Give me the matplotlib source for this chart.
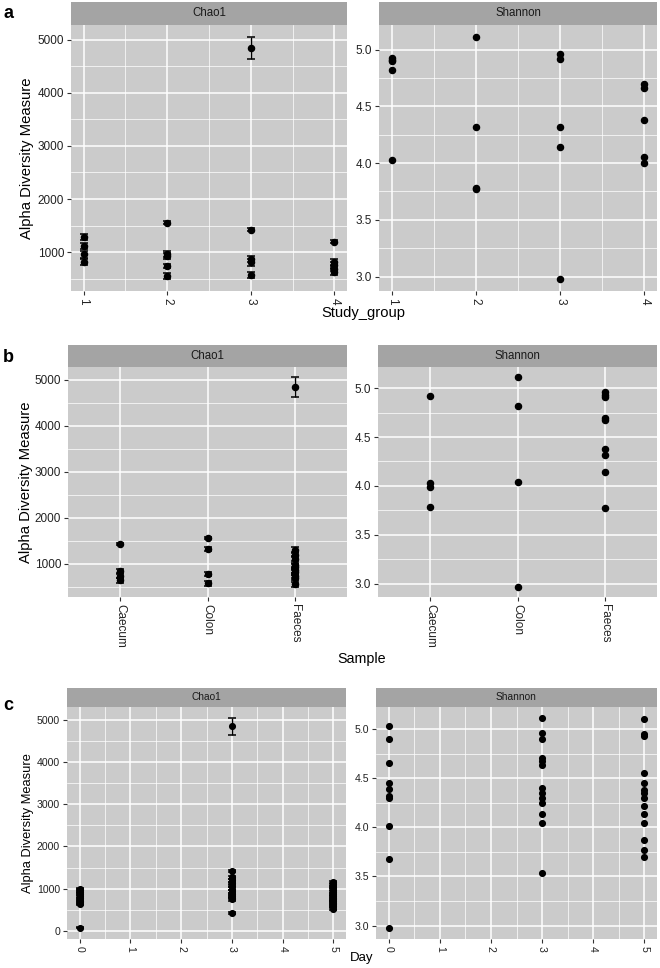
import numpy as np
import matplotlib.pyplot as plt
from matplotlib.ticker import MultipleLocator

plt.rcParams['font.family'] = ['Liberation Sans', 'DejaVu Sans']

# ---- values ----
# (a) by study group
study_group = [1, 2, 3, 4]
chao1_group = [[1290, 1110, 955, 810],
               [1555, 965, 930, 740, 550],
               [4840, 1420, 865, 805, 575],
               [1195, 820, 760, 690, 620]]
chao1_group_se = [[60, 60, 60, 60],
                  [30, 55, 55, 35, 55],
                  [210, 25, 60, 60, 55],
                  [30, 55, 55, 55, 55]]
shannon_group = [[4.93, 4.91, 4.90, 4.82, 4.03],
                 [5.11, 4.32, 3.78, 3.77],
                 [4.96, 4.92, 4.32, 4.14, 2.98],
                 [4.70, 4.66, 4.38, 4.05, 4.00]]

# (b) by sample type
sample_type = ["Caecum", "Colon", "Faeces"]
chao1_sample = [[1420, 830, 740, 640],
                [1555, 1320, 775, 575],
                [4840, 1290, 1195, 1110, 960, 930, 865, 810, 740, 690, 550]]
chao1_sample_se = [[25, 60, 60, 55],
                   [30, 45, 35, 55],
                   [210, 60, 55, 55, 50, 50, 60, 60, 55, 55, 50]]
shannon_sample = [[4.92, 4.03, 3.99, 3.78],
                  [5.11, 4.82, 4.04, 2.97],
                  [4.96, 4.93, 4.91, 4.70, 4.67, 4.38, 4.32, 4.14, 3.77]]

# (c) by day
day = [0, 3, 5]
chao1_day = [[990, 960, 920, 870, 820, 770, 720, 680, 640, 80],
             [4840, 1420, 1270, 1200, 1130, 1060, 1000, 940, 880, 830, 780, 750, 430],
             [1150, 1100, 1040, 980, 930, 880, 830, 790, 750, 710, 670, 630, 580, 530]]
chao1_day_se = [[30, 30, 30, 30, 30, 30, 30, 30, 30, 20],
                [210, 20, 30, 30, 30, 30, 30, 30, 30, 30, 30, 30, 20],
                [30, 30, 30, 30, 30, 30, 30, 30, 30, 30, 30, 30, 30, 30]]
shannon_day = [[5.03, 4.90, 4.66, 4.45, 4.39, 4.32, 4.30, 4.01, 3.68, 2.97],
               [5.12, 4.96, 4.90, 4.71, 4.68, 4.64, 4.40, 4.35, 4.30, 4.25, 4.14, 4.05, 3.54],
               [5.11, 4.95, 4.93, 4.55, 4.45, 4.38, 4.35, 4.30, 4.22, 4.14, 4.05, 3.87, 3.77, 3.70]]

panel_bg = '#cbcbcb'
strip_bg = '#a4a4a4'
W, H = 660, 968

fig = plt.figure(figsize=(6.6, 9.68), dpi=100)


def add_panel(x0, x1, s0, y0, y1, title, fs, tfs):
    ax = fig.add_axes([x0 / W, 1 - y1 / H, (x1 - x0) / W, (y1 - y0) / H])
    sax = fig.add_axes([x0 / W, 1 - y0 / H, (x1 - x0) / W, (y0 - s0) / H])
    sax.set_facecolor(strip_bg)
    sax.set_xticks([])
    sax.set_yticks([])
    for s in sax.spines.values():
        s.set_visible(False)
    sax.text(0.5, 0.5, title, ha='center', va='center', fontsize=fs, color='#1a1a1a')
    ax.set_facecolor(panel_bg)
    for s in ax.spines.values():
        s.set_visible(False)
    ax.set_axisbelow(True)
    ax.grid(which='major', color='white', lw=1.1)
    ax.grid(which='minor', color='white', lw=0.5)
    ax.tick_params(which='major', length=3, width=0.8, color='#333333',
                   labelcolor='#222222', labelsize=tfs, pad=2)
    ax.tick_params(which='minor', length=0)
    return ax


def chao(ax, xs, vals, ses, ms, ticks):
    for x, v, e in zip(xs, vals, ses):
        ax.errorbar([x] * len(v), v, yerr=e, fmt='o', color='black', ms=ms,
                    capsize=3, elinewidth=1, capthick=1.1)
    ax.set_yticks(ticks)
    ax.yaxis.set_minor_locator(MultipleLocator(500))
    ax.margins(y=0.05)


def shan(ax, xs, vals, ms):
    for x, v in zip(xs, vals):
        ax.plot([x] * len(v), v, 'o', color='black', ms=ms)
    ax.set_yticks([3.0, 3.5, 4.0, 4.5, 5.0])
    ax.set_yticklabels(['3.0', '3.5', '4.0', '4.5', '5.0'])
    ax.yaxis.set_minor_locator(MultipleLocator(0.25))
    ax.margins(y=0.05)


# ---- row a ----
ax = add_panel(71, 347, 2, 25, 291, 'Chao1', 8.3, 8.5)
chao(ax, study_group, chao1_group, chao1_group_se, 4.4, [1000, 2000, 3000, 4000, 5000])
ax.set_xlim(0.85, 4.15)
ax.set_xticks(study_group)
ax.xaxis.set_minor_locator(MultipleLocator(0.5))
plt.setp(ax.get_xticklabels(), rotation=270)

ax = add_panel(379, 657, 2, 25, 291, 'Shannon', 8.3, 8.5)
shan(ax, study_group, shannon_group, 4.4)
ax.set_xlim(0.85, 4.15)
ax.set_xticks(study_group)
ax.xaxis.set_minor_locator(MultipleLocator(0.5))
plt.setp(ax.get_xticklabels(), rotation=270)

fig.text(27 / W, 1 - 158 / H, 'Alpha Diversity Measure', rotation=90,
         ha='center', va='center', fontsize=10.7)
fig.text(363 / W, 1 - 306 / H, 'Study_group', ha='center', va='top', fontsize=10.6)
fig.text(3 / W, 1 - 13 / H, 'a', ha='left', va='center', fontsize=13, fontweight='bold')

# ---- row b ----
pos = np.arange(len(sample_type))
ax = add_panel(68, 347, 345, 367, 597, 'Chao1', 8.3, 8.5)
chao(ax, pos, chao1_sample, chao1_sample_se, 4.4, [1000, 2000, 3000, 4000, 5000])
ax.set_xlim(-0.6, 2.6)
ax.set_xticks(pos)
ax.set_xticklabels(sample_type, rotation=270)

ax = add_panel(378, 657, 345, 367, 597, 'Shannon', 8.3, 8.5)
shan(ax, pos, shannon_sample, 4.4)
ax.set_xlim(-0.6, 2.6)
ax.set_xticks(pos)
ax.set_xticklabels(sample_type, rotation=270)

fig.text(26 / W, 1 - 482 / H, 'Alpha Diversity Measure', rotation=90,
         ha='center', va='center', fontsize=10.7)
fig.text(362 / W, 1 - 652 / H, 'Sample', ha='center', va='top', fontsize=10.3)
fig.text(3 / W, 1 - 357 / H, 'b', ha='left', va='center', fontsize=13, fontweight='bold')

# ---- row c ----
ax = add_panel(67, 346, 688, 707, 939, 'Chao1', 7.3, 7.6)
chao(ax, day, chao1_day, chao1_day_se, 4.1, [0, 1000, 2000, 3000, 4000, 5000])
ax.set_xlim(-0.25, 5.25)
ax.set_xticks(range(6))
ax.xaxis.set_minor_locator(MultipleLocator(0.5))
plt.setp(ax.get_xticklabels(), rotation=270)

ax = add_panel(376, 657, 688, 707, 939, 'Shannon', 7.3, 7.6)
shan(ax, day, shannon_day, 4.1)
ax.set_xlim(-0.25, 5.25)
ax.set_xticks(range(6))
ax.xaxis.set_minor_locator(MultipleLocator(0.5))
plt.setp(ax.get_xticklabels(), rotation=270)

fig.text(28 / W, 1 - 823 / H, 'Alpha Diversity Measure', rotation=90,
         ha='center', va='center', fontsize=9.3)
fig.text(362 / W, 1 - 952 / H, 'Day', ha='center', va='top', fontsize=9.5)
fig.text(3 / W, 1 - 705 / H, 'c', ha='left', va='center', fontsize=13, fontweight='bold')

fig.savefig('out.png', dpi=100)
